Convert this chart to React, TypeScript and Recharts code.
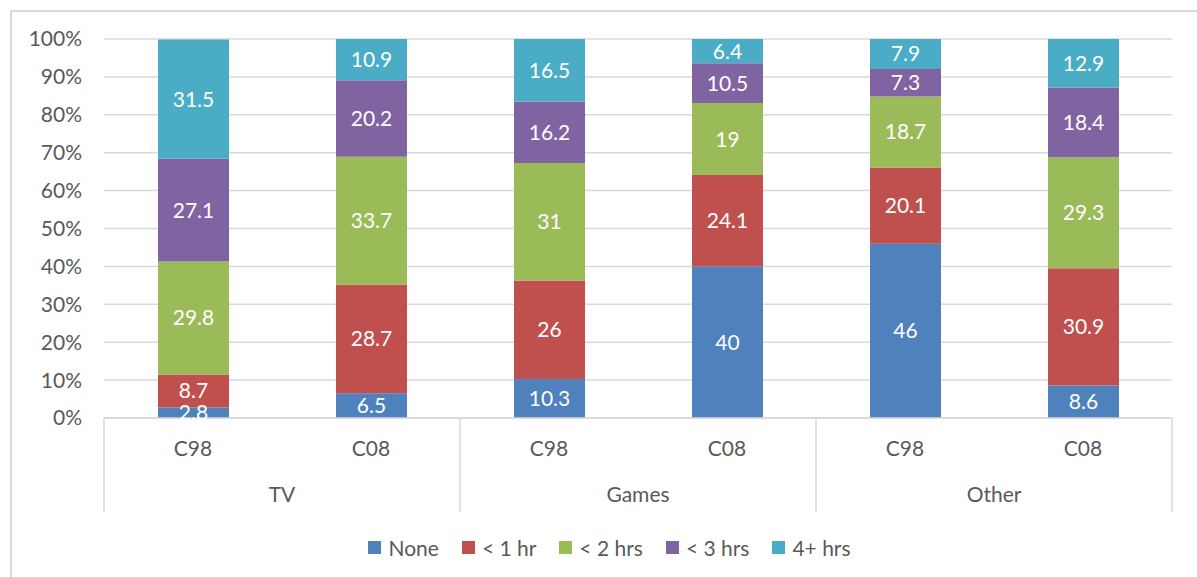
import React from "react";
import { BarChart, Bar, XAxis, YAxis, CartesianGrid, Legend, LabelList } from "recharts";

const GROUPS = ["TV", "TV", "Games", "Games", "Other", "Other"];
const COHORTS = ["C98", "C08", "C98", "C08", "C98", "C08"];
const NONE = [2.8, 6.5, 10.3, 40, 46, 8.6];
const LT1 = [8.7, 28.7, 26, 24.1, 20.1, 30.9];
const LT2 = [29.8, 33.7, 31, 19, 18.7, 29.3];
const LT3 = [27.1, 20.2, 16.2, 10.5, 7.3, 18.4];
const PLUS4 = [31.5, 10.9, 16.5, 6.4, 7.9, 12.9];
const Y_TICKS = [0, 10, 20, 30, 40, 50, 60, 70, 80, 90, 100];

const SERIES = [
  { key: "none", name: "None", color: "#4f81bd" },
  { key: "lt1", name: "< 1 hr", color: "#c0504d" },
  { key: "lt2", name: "< 2 hrs", color: "#9bbb59" },
  { key: "lt3", name: "< 3 hrs", color: "#8064a2" },
  { key: "plus4", name: "4+ hrs", color: "#4bacc6" },
];

const data = COHORTS.map((c, i) => ({
  id: i,
  cohort: c,
  group: GROUPS[i],
  none: NONE[i],
  lt1: LT1[i],
  lt2: LT2[i],
  lt3: LT3[i],
  plus4: PLUS4[i],
}));

const FONT = "Lato, 'Noto Sans', sans-serif";
const FS = 21;
const TEXT = "#595959";
const LINE = "#d9d9d9";

// category label + group label (TV/Games/Other) with separators, like Excel's multi-level axis
const XTick = (props: any) => {
  const { x, y, payload, index } = props;
  const half = payload && payload.offset ? payload.offset : 89;
  const row = data[index] || data[payload.value];
  const isFirst = index % 2 === 0;
  const isLast = index === data.length - 1;
  return (
    <g>
      <text x={x} y={y + 38} textAnchor="middle" fill={TEXT} fontSize={FS} fontFamily={FONT}>
        {row.cohort}
      </text>
      {isFirst && (
        <>
          <line x1={x - half} x2={x - half} y1={y} y2={y + 94} stroke={LINE} strokeWidth={1.5} />
          <text x={x + half} y={y + 84} textAnchor="middle" fill={TEXT} fontSize={FS} fontFamily={FONT}>
            {row.group}
          </text>
        </>
      )}
      {isLast && <line x1={x + half} x2={x + half} y1={y} y2={y + 94} stroke={LINE} strokeWidth={1.5} />}
    </g>
  );
};

const LegendContent = () => (
  <div style={{ display: "flex", justifyContent: "center", alignItems: "center", height: 26, paddingLeft: 22, fontFamily: FONT, fontSize: FS, color: TEXT }}>
    {SERIES.map((s, i) => (
      <div key={s.key} style={{ display: "flex", alignItems: "center", marginLeft: i === 0 ? 0 : 23 }}>
        <span style={{ display: "inline-block", width: 13, height: 13, background: s.color, marginRight: 7 }} />
        <span>{s.name}</span>
      </div>
    ))}
  </div>
);

export default function App() {
  return (
    <div style={{ position: "absolute", left: 0, top: 0, width: 1197, height: 577, background: "#fff", overflow: "hidden" }}>
      <div style={{ position: "absolute", left: 10, top: 10, width: 1200, height: 600, border: `2px solid ${LINE}`, boxSizing: "border-box" }} />
      <div style={{ position: "absolute", left: 0, top: 0 }}>
        <BarChart width={1197} height={577} data={data} margin={{ top: 39, right: 25, bottom: 39, left: 0 }} barSize={71}>
          <CartesianGrid horizontal vertical={false} stroke={LINE} strokeWidth={1.5} />
          <XAxis
            dataKey="id"
            interval={0}
            height={94}
            tickLine={false}
            tickSize={0}
            tickMargin={0}
            axisLine={{ stroke: LINE, strokeWidth: 1.5 }}
            tick={<XTick />}
          />
          <YAxis
            width={104}
            domain={[0, 100]}
            ticks={Y_TICKS}
            allowDataOverflow
            tickLine={false}
            axisLine={false}
            tickSize={0}
            tickMargin={22}
            tickFormatter={(v) => `${v}%`}
            tick={{ fill: TEXT, fontSize: FS, fontFamily: FONT }}
          />
          {SERIES.map((s) => (
            <Bar key={s.key} dataKey={s.key} name={s.name} stackId="a" fill={s.color} isAnimationActive={false}>
              <LabelList dataKey={s.key} position="center" fill="#ffffff" fontSize={FS} fontFamily={FONT} />
            </Bar>
          ))}
          <Legend content={<LegendContent />} wrapperStyle={{ top: 534, bottom: "auto", left: 0, width: 1197 }} />
        </BarChart>
      </div>
    </div>
  );
}
